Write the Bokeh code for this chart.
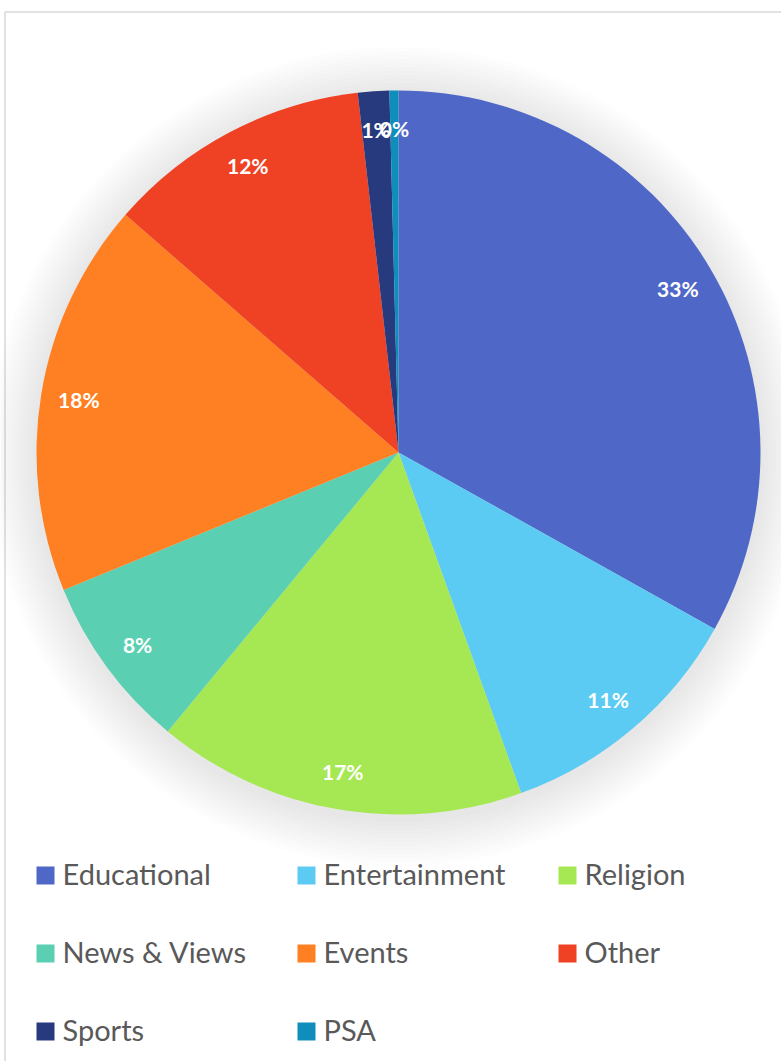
import numpy as np
from bokeh.plotting import figure
from bokeh.models import ColumnDataSource, Range1d
from bokeh.core.properties import value
from bokeh.embed import file_html
from bokeh.resources import INLINE

categories = ["Educational", "Entertainment", "Religion", "News & Views",
              "Events", "Other", "Sports", "PSA"]
shares = [33.1, 11.4, 16.5, 7.8, 17.6, 11.8, 1.4, 0.4]
labels = ["33%", "11%", "17%", "8%", "18%", "12%", "1%", "0%"]
colors = ["#4F68C8", "#5CCBF3", "#A6E853", "#5BCFB1", "#FF8022",
          "#EF4123", "#283A7E", "#0F8DBB"]

W, H = 781, 1061
cx, cy, R = 398, H - 452, 362

vals = np.array(shares, dtype=float)
frac = vals / vals.sum()
cum_end = np.cumsum(frac) * 2 * np.pi
cum_start = cum_end - frac * 2 * np.pi
start_angle = np.pi / 2 - cum_end
end_angle = np.pi / 2 - cum_start
mid = (start_angle + end_angle) / 2
lr = R * 0.895
lx = cx + lr * np.cos(mid)
ly = cy + lr * np.sin(mid)

src = ColumnDataSource(dict(cat=categories, start=start_angle, end=end_angle,
                            color=colors, lx=lx, ly=ly, lab=labels))

p = figure(width=W, height=H, output_backend="svg", toolbar_location=None,
           x_range=Range1d(0, W), y_range=Range1d(0, H), min_border=0,
           background_fill_color="white", border_fill_color="white")
p.axis.visible = False
p.grid.visible = False
p.outline_line_color = None

# frame
p.quad(left=[4.5], right=[W + 20], top=[H - 11.5], bottom=[-20],
       fill_color=None, line_color="#D9D9D9", line_width=1.5)

# soft glow behind the pie
for k in range(12):
    p.circle(x=[cx], y=[cy - 4], radius=R + 48 - k * 4, fill_color="#000000",
             fill_alpha=0.007, line_color=None)

p.wedge(x=cx, y=cy, radius=R, start_angle="start", end_angle="end",
        fill_color="color", line_color=None, source=src)

p.text(x="lx", y="ly", text="lab", source=src, text_color="white",
       text_font=value("Lato"), text_font_style="bold", text_font_size="21px",
       text_align="center", text_baseline="middle")

# legend
idx = np.arange(len(categories))
col = idx % 3
row = idx // 3
sq_x = 45 + col * 261
sq_y = H - (875 + row * 78)
lsrc = ColumnDataSource(dict(x=sq_x, y=sq_y, tx=sq_x + 17, ty=sq_y + 2,
                             color=colors, cat=categories))
p.rect(x="x", y="y", width=18, height=18, fill_color="color", line_color=None, source=lsrc)
p.text(x="tx", y="ty", text="cat", source=lsrc, text_color="#595959",
       text_font=value("Lato"), text_font_size="29px",
       text_align="left", text_baseline="middle")

open("out.html", "w").write(file_html(p, INLINE))
